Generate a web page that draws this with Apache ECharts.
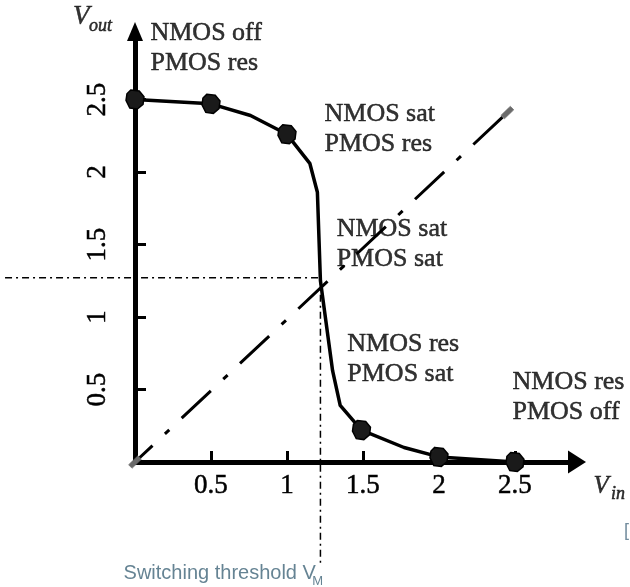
<!DOCTYPE html>
<html>
<head>
<meta charset="utf-8">
<script src="https://cdn.jsdelivr.net/npm/echarts@6/dist/echarts.min.js"></script>
<style>html,body{margin:0;padding:0;background:#fff;}#c{width:630px;height:587px;}</style>
</head>
<body>
<div id="c"></div>
<script>
// ---- data ----
const vinCurve  = [0, 0.5, 0.76, 1.0, 1.15, 1.2, 1.22, 1.3, 1.35, 1.49, 1.77, 2.0, 2.5];
const voutCurve = [2.5, 2.47, 2.39, 2.26, 2.06, 1.86, 1.25, 0.63, 0.39, 0.22, 0.10, 0.035, 0.0];
const markerVin  = [0, 0.5, 1.0, 1.49, 2.0, 2.5];
const markerVout = [2.5, 2.47, 2.26, 0.22, 0.035, 0.0];
const diagVin  = [0, 2.45];
const diagVout = [0, 2.41];
const thresholdVin = 1.22;
const thresholdVout = 1.27;
const xTicks = [0.5, 1, 1.5, 2, 2.5];
const yTicks = [0.5, 1, 1.5, 2, 2.5];
const regionText = ['NMOS off\nPMOS res', 'NMOS sat\nPMOS res', 'NMOS sat\nPMOS sat', 'NMOS res\nPMOS sat', 'NMOS res\nPMOS off'];

// annotation anchors (data coordinates)
const regionAnchor = [[0.105, 3.06], [1.25, 2.50], [1.33, 1.707], [1.40, 0.914], [2.487, 0.652]];
// extents of the threshold guide lines (data coordinates)
const guideLeftVin = -0.855;
const guideBottomVout = -0.71;

const serif = 'Liberation Serif, Times New Roman, serif';
const sans = 'Liberation Sans, Arial, sans-serif';

function makePattern(bg, dot) {
  const c = document.createElement('canvas');
  c.width = 3; c.height = 3;
  const g = c.getContext('2d');
  g.fillStyle = bg; g.fillRect(0, 0, 3, 3);
  g.fillStyle = dot; g.fillRect(1, 1, 1, 1);
  return c;
}
const darkPattern = { image: makePattern('#1a1a1a', '#c8c8c8'), repeat: 'repeat' };
const greyPattern = { image: makePattern('#6a6a6a', '#f0f0f0'), repeat: 'repeat' };

const zip = (a, b) => a.map((v, i) => [v, b[i]]);

const chart = echarts.init(document.getElementById('c'), null, { renderer: 'canvas' });

const axisCommon = {
  type: 'value',
  min: 0,
  splitLine: { show: false },
  axisLine: { show: true, onZero: true, lineStyle: { color: '#000', width: 5 } },
  axisTick: { show: true, inside: true, length: 11, lineStyle: { color: '#000', width: 3 } },
  axisLabel: { show: true, color: '#000', fontFamily: serif, fontSize: 27, textBorderColor: '#000', textBorderWidth: 0.5 }
};

const annPoint = (value, text, style) => ({ value, name: text, label: style });
const serifStyle = (extra) => Object.assign({ fontFamily: serif, color: '#000', textBorderColor: '#000', textBorderWidth: 0.5, align: 'left', verticalAlign: 'middle' }, extra);
const sansStyle = (extra) => Object.assign({ fontFamily: sans, color: '#3f6478', align: 'left', verticalAlign: 'middle' }, extra);

const ann = [];
regionText.forEach((t, i) => ann.push(annPoint(regionAnchor[i], t, serifStyle({ fontSize: 26, lineHeight: 30, verticalAlign: 'top' }))));
ann.push(annPoint([-0.405, 3.063], 'V', serifStyle({ fontSize: 27, fontStyle: 'italic' })));
ann.push(annPoint([-0.3, 3.0], 'out', serifStyle({ fontSize: 18, fontStyle: 'italic' })));
ann.push(annPoint([3.02, -0.17], 'V', serifStyle({ fontSize: 25, fontStyle: 'italic' })));
ann.push(annPoint([3.135, -0.228], 'in', serifStyle({ fontSize: 18, fontStyle: 'italic' })));
ann.push(annPoint([-0.072, -0.77], 'Switching threshold V', sansStyle({ fontSize: 20 })));
ann.push(annPoint([1.17, -0.83], 'M', sansStyle({ fontSize: 13 })));
ann.push(annPoint([3.22, -0.48], '[', sansStyle({ fontSize: 18, color: '#4f6f84' })));

const guideData = [
  [guideLeftVin, thresholdVout, thresholdVin, thresholdVout],
  [thresholdVin, thresholdVout, thresholdVin, guideBottomVout]
];

chart.setOption({
  animation: false,
  backgroundColor: '#fff',
  grid: { left: 135, right: 53, top: 31.5, bottom: 125, outerBoundsMode: 'none', containLabel: false },
  xAxis: Object.assign({}, axisCommon, {
    max: 2.908,
    axisLine: Object.assign({}, axisCommon.axisLine, { symbol: ['none', 'triangle'], symbolSize: [23, 18] }),
    axisTick: Object.assign({}, axisCommon.axisTick, { customValues: xTicks }),
    axisLabel: Object.assign({}, axisCommon.axisLabel, { customValues: xTicks, margin: 10 })
  }),
  yAxis: Object.assign({}, axisCommon, {
    max: 2.969,
    axisLine: Object.assign({}, axisCommon.axisLine, { symbol: ['none', 'triangle'], symbolSize: [16, 19] }),
    axisTick: Object.assign({}, axisCommon.axisTick, { customValues: yTicks }),
    axisLabel: Object.assign({}, axisCommon.axisLabel, { customValues: yTicks, rotate: 90, margin: 24 })
  }),
  series: [
    { // threshold guide lines (dash-dot)
      type: 'custom', clip: false, silent: true, z: 2,
      encode: { x: [0, 2], y: [1, 3] },
      data: guideData,
      renderItem: function (params, api) {
        const p1 = api.coord([api.value(0), api.value(1)]);
        const p2 = api.coord([api.value(2), api.value(3)]);
        return {
          type: 'line',
          shape: { x1: p1[0], y1: p1[1], x2: p2[0], y2: p2[1] },
          style: { stroke: '#000', lineWidth: 1.5, lineDash: [7, 4, 2, 4], fill: null }
        };
      }
    },
    { // diagonal Vin = Vout
      type: 'line', clip: false, silent: true,
      data: zip(diagVin, diagVout),
      showSymbol: true, symbol: 'rect', symbolSize: [13, 5], symbolRotate: 44,
      itemStyle: { color: greyPattern, borderColor: '#666', borderWidth: 0.5 },
      lineStyle: { color: '#000', width: 3, type: [40, 17, 6, 17], dashOffset: 16 }, z: 3
    },
    { // VTC curve
      type: 'line', clip: false, symbol: 'none', silent: true,
      data: zip(vinCurve, voutCurve),
      lineStyle: { color: '#000', width: 3.5, join: 'round' }, z: 4
    },
    { // markers
      type: 'scatter', clip: false, silent: true,
      data: zip(markerVin, markerVout),
      symbol: 'path://M5,0 L14,1 L19,7 L18,15 L12,20 L4,19 L0,11 L1,4 Z',
      symbolSize: [18, 19],
      itemStyle: { color: darkPattern, borderColor: '#000', borderWidth: 1.5, opacity: 1 }, z: 5
    },
    { // annotations
      type: 'scatter', clip: false, silent: true,
      symbolSize: 1, itemStyle: { color: 'rgba(0,0,0,0)' },
      label: { show: true, position: [0, 0], formatter: '{b}' },
      data: ann, z: 6
    }
  ]
});
</script>
</body>
</html>
